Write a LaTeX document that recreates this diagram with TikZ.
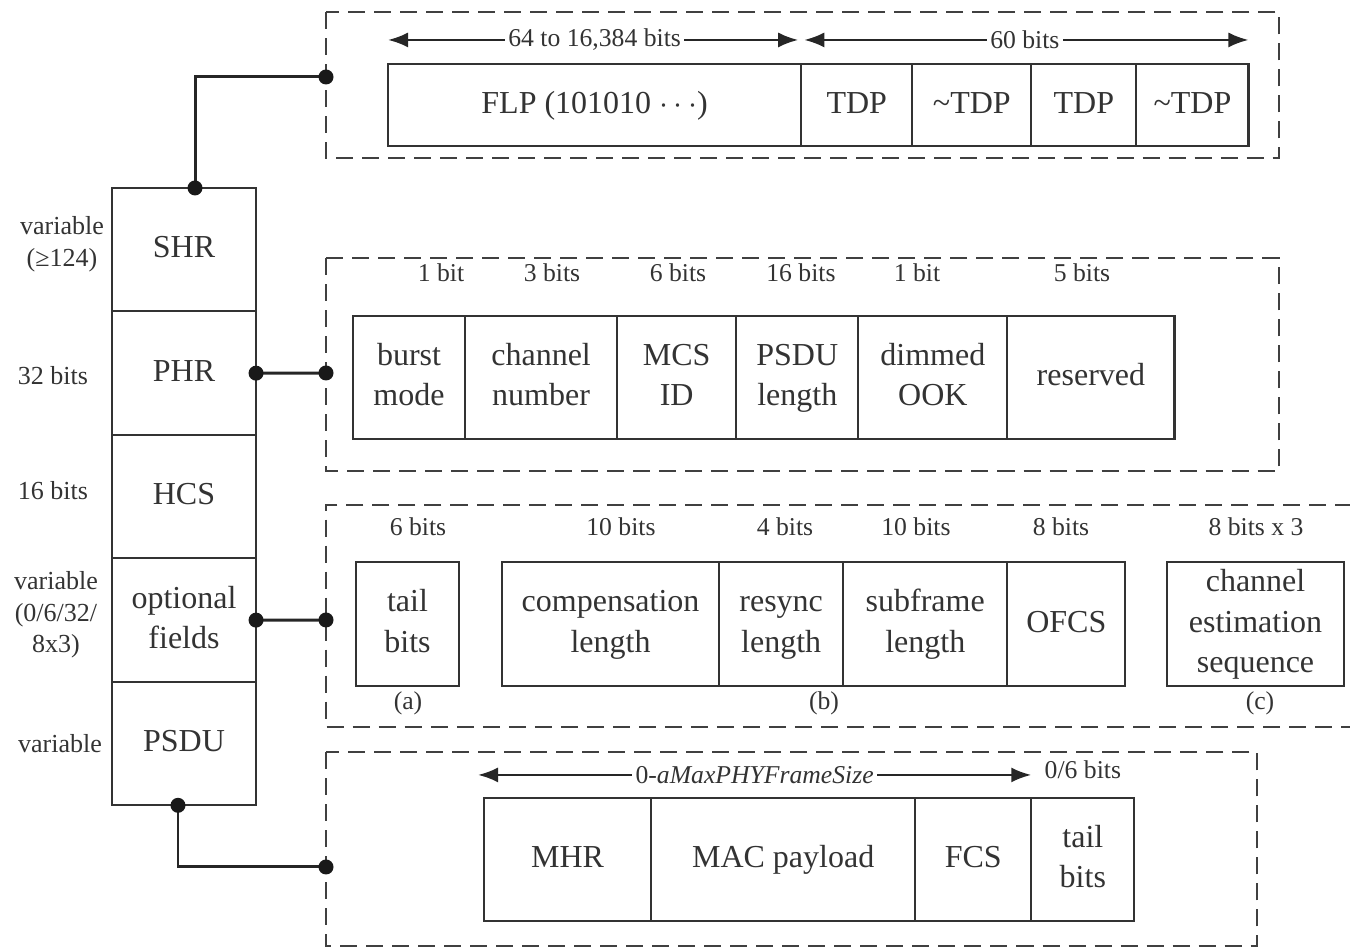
\documentclass[tikz,border=0pt]{standalone}
\usepackage{fontspec}
\setmainfont{Liberation Serif}
\usetikzlibrary{arrows.meta,positioning}
\tikzstyle{field} = [draw=black!80, line width=0.6pt, rectangle, outer sep=0pt, inner sep=0pt, align=center, text=black!80, font=\fontsize{9.1}{11.4}\selectfont]
\tikzstyle{bitlbl} = [inner sep=0pt, align=center, text=black!80, font=\fontsize{7.3}{9}\selectfont]
\tikzstyle{dimlbl} = [fill=white, inner sep=1pt, text=black!80, font=\fontsize{7.3}{9}\selectfont]
\tikzstyle{dashbox} = [draw=black!75, line width=0.7pt, dash pattern=on 0.17cm off 0.09cm]
\tikzstyle{conn} = [draw=black!85, line width=0.85pt]
\tikzstyle{dimarrow} = [draw=black!85, line width=0.7pt, {Latex[length=0.2cm,width=0.15cm]}-{Latex[length=0.2cm,width=0.15cm]}]
\tikzstyle{dot} = [circle, fill=black!90, inner sep=0pt, minimum size=0.15cm]

\begin{document}
\begin{tikzpicture}[x=0.01cm, y=-0.01cm]
    \useasboundingbox (0,0) rectangle (1350,949);

    % PPDU column
    \node [field, minimum width=1.44cm, minimum height=1.234cm] (shr) at (184,249.7) {SHR\strut};
    \node [field, minimum width=1.44cm, minimum height=1.234cm, below=0pt of shr] (phr) {PHR\strut};
    \node [field, minimum width=1.44cm, minimum height=1.234cm, below=0pt of phr] (hcs) {HCS\strut};
    \node [field, minimum width=1.44cm, minimum height=1.234cm, below=0pt of hcs] (opt) {optional\strut\\fields\strut};
    \node [field, minimum width=1.44cm, minimum height=1.234cm, below=0pt of opt] (psdu) {PSDU\strut};

    \node [bitlbl, font=\fontsize{7.4}{9.1}\selectfont] (shrlen) at (62,244) {variable\strut\\(≥124)\strut};
    \node [bitlbl, font=\fontsize{7.4}{9.1}\selectfont] (phrlen) at (53,376) {32 bits};
    \node [bitlbl, font=\fontsize{7.4}{9.1}\selectfont] (hcslen) at (53,491) {16 bits};
    \node [bitlbl, font=\fontsize{7.4}{8.9}\selectfont] (optlen) at (56,615) {variable\strut\\(0/6/32/\strut\\8x3)\strut};
    \node [bitlbl, font=\fontsize{7.4}{9.1}\selectfont] (psdulen) at (60,744) {variable};

    % SHR
    \draw [dashbox] (326,12) rectangle (1279,158);
    \coordinate (tap1) at (326,77);
    \node [field, minimum width=4.13cm, minimum height=0.82cm, anchor=west] (flp) at (388,105) {FLP (101010 $\cdots$)\strut};
    \node [field, minimum width=1.11cm, minimum height=0.82cm, right=0pt of flp] (tdpa) {TDP\strut};
    \node [field, minimum width=1.19cm, minimum height=0.82cm, right=0pt of tdpa] (ntdpa) {\textasciitilde TDP\strut};
    \node [field, minimum width=1.05cm, minimum height=0.82cm, right=0pt of ntdpa] (tdpb) {TDP\strut};
    \node [field, minimum width=1.12cm, minimum height=0.82cm, right=0pt of tdpb] (ntdpb) {\textasciitilde TDP\strut};
    \draw [dimarrow, shorten >=0.03cm] ([yshift=0.24cm]flp.north west) -- node [dimlbl] {64 to 16,384 bits} ([yshift=0.24cm]flp.north east);
    \draw [dimarrow, shorten <=0.03cm] ([yshift=0.24cm]tdpa.north west) -- node [dimlbl] {60 bits} ([yshift=0.24cm]ntdpb.north east);

    % PHR
    \draw [dashbox] (326,258) rectangle (1279,471);
    \coordinate (tap2) at (326,373);
    \node [field, minimum width=1.12cm, minimum height=1.23cm, anchor=west] (burst) at (353,377.5) {burst\strut\\mode\strut};
    \node [field, minimum width=1.52cm, minimum height=1.23cm, right=0pt of burst] (chan) {channel\strut\\number\strut};
    \node [field, minimum width=1.19cm, minimum height=1.23cm, right=0pt of chan] (mcs) {MCS\strut\\ID\strut};
    \node [field, minimum width=1.22cm, minimum height=1.23cm, right=0pt of mcs] (len) {PSDU\strut\\length\strut};
    \node [field, minimum width=1.49cm, minimum height=1.23cm, right=0pt of len] (dim) {dimmed\strut\\OOK\strut};
    \node [field, minimum width=1.67cm, minimum height=1.23cm, right=0pt of dim] (resv) {reserved\strut};
    \node [bitlbl] (b1) at (441,273) {1 bit};
    \node [bitlbl] (b2) at (552,273) {3 bits};
    \node [bitlbl] (b3) at (678,273) {6 bits};
    \node [bitlbl] (b4) at (801,273) {16 bits};
    \node [bitlbl] (b5) at (917,273) {1 bit};
    \node [bitlbl] (b6) at (1082,273) {5 bits};

    % optional fields
    \draw [dashbox] (1352,505) -- (326,505) -- (326,727) -- (1352,727);
    \coordinate (tap3) at (326,620);
    \node [field, minimum width=1.03cm, minimum height=1.24cm, anchor=west] (tail) at (356,624) {tail\strut\\bits\strut};
    \node [field, minimum width=2.17cm, minimum height=1.24cm, anchor=west] (comp) at (502,624) {compensation\strut\\length\strut};
    \node [field, minimum width=1.24cm, minimum height=1.24cm, right=0pt of comp] (resync) {resync\strut\\length\strut};
    \node [field, minimum width=1.64cm, minimum height=1.24cm, right=0pt of resync] (subfr) {subframe\strut\\length\strut};
    \node [field, minimum width=1.18cm, minimum height=1.24cm, right=0pt of subfr] (ofcs) {OFCS\strut};
    \node [field, minimum width=1.77cm, minimum height=1.24cm, anchor=west] (chest) at (1167,624) {channel\strut\\estimation\strut\\sequence\strut};
    \node [bitlbl] (c1) at (418,527) {6 bits};
    \node [bitlbl] (c2) at (621,527) {10 bits};
    \node [bitlbl] (c3) at (785,527) {4 bits};
    \node [bitlbl] (c4) at (916,527) {10 bits};
    \node [bitlbl] (c5) at (1061,527) {8 bits};
    \node [bitlbl] (c6) at (1256,527) {8 bits x 3};
    \node [bitlbl] (opta) at (408,703) {(a)};
    \node [bitlbl] (optb) at (824,703) {(b)};
    \node [bitlbl] (optc) at (1260,703) {(c)};

    % PSDU
    \draw [dashbox] (326,752) rectangle (1257,946);
    \coordinate (tap4) at (326,867);
    \node [field, minimum width=1.67cm, minimum height=1.23cm, anchor=west] (mhr) at (484,859.5) {MHR\strut};
    \node [field, minimum width=2.64cm, minimum height=1.23cm, right=0pt of mhr] (payload) {MAC payload\strut};
    \node [field, minimum width=1.16cm, minimum height=1.23cm, right=0pt of payload] (fcs) {FCS\strut};
    \node [field, minimum width=1.03cm, minimum height=1.23cm, right=0pt of fcs] (tailb) {tail\strut\\bits\strut};
    \draw [dimarrow] ([xshift=-0.06cm,yshift=0.23cm]mhr.north west) -- node [dimlbl] {0-\textit{aMaxPHYFrameSize}} ([yshift=0.23cm]fcs.north east);
    \node [bitlbl] (tlen) at ([yshift=0.28cm]tailb.north) {0/6 bits};

    % Connections
    \draw [conn] ([xshift=0.11cm]shr.north) |- (tap1);
    \draw [conn] (phr.east) -- (tap2);
    \draw [conn] (opt.east) -- (tap3);
    \draw [conn] ([xshift=-0.06cm]psdu.south) |- (tap4);
    \node [dot] at ([xshift=0.11cm]shr.north) {};
    \node [dot] at (tap1) {};
    \node [dot] at (phr.east) {};
    \node [dot] at (tap2) {};
    \node [dot] at (opt.east) {};
    \node [dot] at (tap3) {};
    \node [dot] at ([xshift=-0.06cm]psdu.south) {};
    \node [dot] at (tap4) {};
\end{tikzpicture}
\end{document}
